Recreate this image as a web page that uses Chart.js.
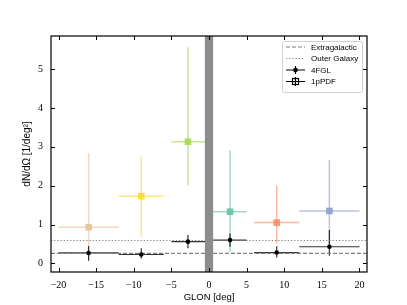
<!DOCTYPE html>
<html><head><meta charset="utf-8">
<script src="https://cdn.jsdelivr.net/npm/chart.js@4.4.1/dist/chart.umd.min.js"></script>
<style>html,body{margin:0;padding:0;background:#fff}</style>
</head><body>
<canvas id="c" width="407" height="305" style="width:407px;height:305px;display:block"></canvas>
<script>
// ---- data ----
const xTicks = [-20, -15, -10, -5, 0, 5, 10, 15, 20];
const yTicks = [0, 1, 2, 3, 4, 5];
const pdfX   = [-16, -9, -2.8, 2.8, 9, 16];
const pdfXLo = [-20, -12, -5, 0, 6, 12];
const pdfXHi = [-12, -6, 0, 5, 12, 20];
const pdfY   = [0.93, 1.73, 3.13, 1.33, 1.05, 1.35];
const pdfYLo = [0.08, 0.68, 2.01, 0.30, 0.51, 0.50];
const pdfYHi = [2.84, 2.76, 5.56, 2.91, 2.00, 2.66];
const pdfColors = ['#e5c494', '#ffd92f', '#a6d854', '#66c2a5', '#fc8d62', '#8da0cb'];
const fglX   = [-16, -9, -2.8, 2.8, 9, 16];
const fglXLo = [-20, -12, -5, 0, 6, 12];
const fglXHi = [-12, -6, 0, 5, 12, 20];
const fglY   = [0.27, 0.23, 0.56, 0.60, 0.28, 0.43];
const fglYLo = [0.07, 0.13, 0.39, 0.43, 0.15, 0.20];
const fglYHi = [0.45, 0.39, 0.73, 0.77, 0.44, 0.86];
const extragalactic = 0.26;
const outerGalaxy = 0.59;
const bandLo = -0.55, bandHi = 0.55;
const xMin = -21, xMax = 21, yMin = -0.22, yMax = 5.85;
const legendLabels = ['Extragalactic', 'Outer Galaxy', '4FGL', '1pPDF'];

function hexA(h, a) {
  const r = parseInt(h.slice(1,3),16), g = parseInt(h.slice(3,5),16), b = parseInt(h.slice(5,7),16);
  return `rgba(${r},${g},${b},${a})`;
}
const fmt = v => v < 0 ? '\u2212' + Math.abs(v) : String(v);

const plugin = {
  id: 'custom',
  beforeDatasetsDraw(chart) {
    const {ctx, chartArea: a, scales: {x, y}} = chart;
    ctx.save();
    ctx.beginPath(); ctx.rect(a.left, a.top, a.right - a.left, a.bottom - a.top); ctx.clip();
    ctx.lineCap = 'butt';
    for (let i = 0; i < pdfX.length; i++) {
      ctx.strokeStyle = hexA(pdfColors[i], 0.62);
      ctx.lineWidth = 1.5;
      ctx.beginPath();
      ctx.moveTo(x.getPixelForValue(pdfXLo[i]), y.getPixelForValue(pdfY[i]));
      ctx.lineTo(x.getPixelForValue(pdfXHi[i]), y.getPixelForValue(pdfY[i]));
      ctx.moveTo(x.getPixelForValue(pdfX[i]), y.getPixelForValue(pdfYLo[i]));
      ctx.lineTo(x.getPixelForValue(pdfX[i]), y.getPixelForValue(pdfYHi[i]));
      ctx.stroke();
    }
    for (let i = 0; i < fglX.length; i++) {
      ctx.strokeStyle = 'rgba(0,0,0,0.8)';
      ctx.lineWidth = 1.2;
      ctx.beginPath();
      ctx.moveTo(x.getPixelForValue(fglXLo[i]), y.getPixelForValue(fglY[i]));
      ctx.lineTo(x.getPixelForValue(fglXHi[i]), y.getPixelForValue(fglY[i]));
      ctx.moveTo(x.getPixelForValue(fglX[i]), y.getPixelForValue(fglYLo[i]));
      ctx.lineTo(x.getPixelForValue(fglX[i]), y.getPixelForValue(fglYHi[i]));
      ctx.stroke();
    }
    ctx.restore();
  },
  afterDatasetsDraw(chart) {
    const {ctx, chartArea: a, scales: {x}} = chart;
    ctx.save();
    ctx.fillStyle = '#8c8c8c';
    const x0 = x.getPixelForValue(bandLo), x1 = x.getPixelForValue(bandHi);
    ctx.fillRect(x0, a.top, x1 - x0, a.bottom - a.top);
    ctx.restore();
  },
  afterDraw(chart) {
    const {ctx, chartArea: a, scales: {x, y}} = chart;
    ctx.save();
    // ticks (inward, all sides)
    ctx.strokeStyle = '#000'; ctx.lineWidth = 1;
    const tl = 4;
    ctx.beginPath();
    xTicks.forEach(v => {
      const px = Math.round(x.getPixelForValue(v)) + 0.5;
      ctx.moveTo(px, a.bottom); ctx.lineTo(px, a.bottom - tl);
      ctx.moveTo(px, a.top); ctx.lineTo(px, a.top + tl);
    });
    yTicks.forEach(v => {
      const py = Math.round(y.getPixelForValue(v)) + 0.5;
      ctx.moveTo(a.left, py); ctx.lineTo(a.left + tl, py);
      ctx.moveTo(a.right, py); ctx.lineTo(a.right - tl, py);
    });
    ctx.stroke();
    // frame
    ctx.lineWidth = 1.2;
    ctx.strokeRect(a.left, a.top, a.right - a.left, a.bottom - a.top);
    // legend
    const bx = 282, by = 41, bw = 80, bh = 51;
    ctx.fillStyle = 'rgba(255,255,255,0.85)';
    ctx.strokeStyle = '#d0d0d0'; ctx.lineWidth = 1;
    ctx.beginPath();
    ctx.roundRect(bx + 0.5, by + 0.5, bw, bh, 2);
    ctx.fill(); ctx.stroke();
    const rows = [47, 58.5, 70, 81.5];
    const hx0 = 286, hx1 = 305, hxm = (hx0 + hx1) / 2;
    ctx.lineWidth = 1.2;
    ctx.strokeStyle = '#808080'; ctx.setLineDash([4, 2]);
    ctx.beginPath(); ctx.moveTo(hx0, rows[0]); ctx.lineTo(hx1, rows[0]); ctx.stroke();
    ctx.setLineDash([1.2, 2]);
    ctx.beginPath(); ctx.moveTo(hx0, rows[1]); ctx.lineTo(hx1, rows[1]); ctx.stroke();
    ctx.setLineDash([]);
    ctx.strokeStyle = '#000';
    ctx.beginPath(); ctx.moveTo(hx0, rows[2]); ctx.lineTo(hx1, rows[2]);
    ctx.moveTo(hxm, rows[2] - 4); ctx.lineTo(hxm, rows[2] + 4); ctx.stroke();
    ctx.fillStyle = '#000';
    ctx.beginPath(); ctx.arc(hxm, rows[2], 2.3, 0, Math.PI * 2); ctx.fill();
    ctx.beginPath(); ctx.moveTo(hx0, rows[3]); ctx.lineTo(hx1, rows[3]);
    ctx.moveTo(hxm, rows[3] - 4.5); ctx.lineTo(hxm, rows[3] + 4.5); ctx.stroke();
    ctx.strokeRect(hxm - 3, rows[3] - 3, 6, 6);
    ctx.fillStyle = '#000';
    ctx.font = '8px "Liberation Sans"';
    ctx.textBaseline = 'middle'; ctx.textAlign = 'left';
    legendLabels.forEach((t, i) => ctx.fillText(t, 311, rows[i] + 0.5));
    ctx.restore();
  }
};

new Chart(document.getElementById('c'), {
  type: 'scatter',
  data: {
    datasets: [
      { data: [{x: xMin, y: extragalactic}, {x: xMax, y: extragalactic}], showLine: true, pointRadius: 0,
        borderColor: '#808080', borderWidth: 1.2, borderDash: [4, 2], order: 5 },
      { data: [{x: xMin, y: outerGalaxy}, {x: xMax, y: outerGalaxy}], showLine: true, pointRadius: 0,
        borderColor: '#808080', borderWidth: 1.2, borderDash: [1.2, 2], order: 4 },
      { data: pdfX.map((v, i) => ({x: v, y: pdfY[i]})), pointStyle: 'rect', pointRadius: 4.7,
        backgroundColor: pdfColors.map(c => hexA(c, 0.9)), borderWidth: 0, order: 3 },
      { data: fglX.map((v, i) => ({x: v, y: fglY[i]})), pointStyle: 'circle', pointRadius: 2.3,
        backgroundColor: '#000', borderWidth: 0, order: 1 }
    ]
  },
  options: {
    responsive: false, animation: false, devicePixelRatio: 1,
    layout: {padding: {top: 36, right: 40, left: 0, bottom: 0}},
    plugins: {legend: {display: false}, tooltip: {enabled: false}},
    scales: {
      x: {
        type: 'linear', min: xMin, max: xMax,
        afterBuildTicks: s => { s.ticks = xTicks.map(v => ({value: v})); },
        afterFit: s => { s.height = 33; },
        grid: {display: false, drawTicks: false},
        border: {display: false},
        ticks: {padding: 7, color: '#000', font: {family: 'Liberation Serif', size: 10}, callback: v => fmt(v), maxRotation: 0, autoSkip: false},
        title: {display: true, text: 'GLON [deg]', color: '#000', font: {family: 'Liberation Sans', size: 9.5}, padding: {top: 0, bottom: 1.5}}
      },
      y: {
        type: 'linear', min: yMin, max: yMax,
        afterBuildTicks: s => { s.ticks = yTicks.map(v => ({value: v})); },
        afterFit: s => { s.width = 51; },
        grid: {display: false, drawTicks: false},
        border: {display: false},
        ticks: {padding: 8, color: '#000', font: {family: 'Liberation Serif', size: 10}, callback: v => fmt(v), autoSkip: false},
        title: {display: true, text: 'dN/dΩ [1/deg²]', color: '#000', font: {family: 'Liberation Sans', size: 10}, padding: {top: 21, bottom: 0}}
      }
    }
  },
  plugins: [plugin]
});
</script>
</body></html>
